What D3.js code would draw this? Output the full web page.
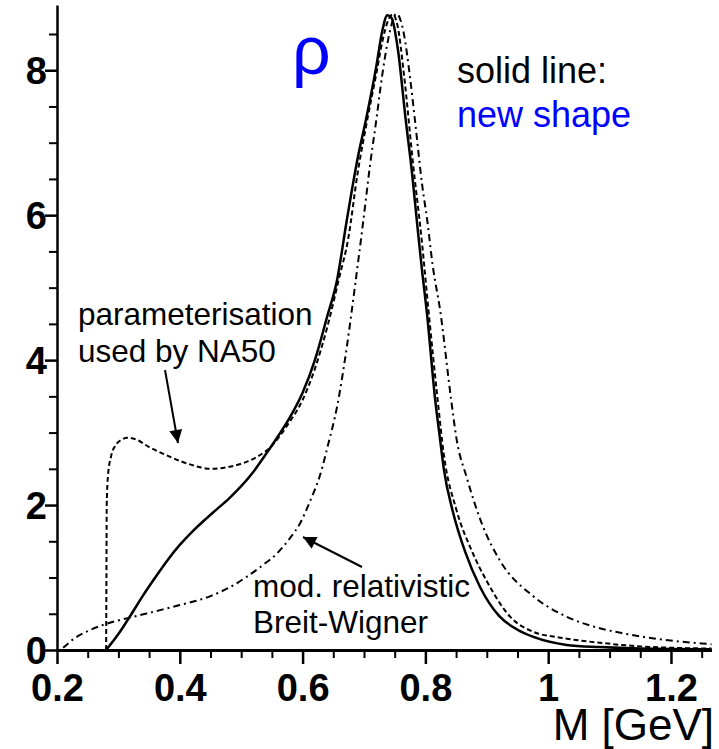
<!DOCTYPE html>
<html>
<head>
<meta charset="utf-8">
<script src="https://cdn.jsdelivr.net/npm/d3@7"></script>
<style>
  body { margin: 0; background: #fff; }
  svg { display: block; font-family: "Liberation Sans", Arial, sans-serif; }
</style>
</head>
<body>
<svg id="graph" width="719" height="749"></svg>
<script>
// valeurs (M en GeV, distribution en unités arbitraires)
const newShapeM = [0.280, 0.300, 0.320, 0.340, 0.360, 0.380, 0.400, 0.420, 0.440, 0.460, 0.480, 0.500, 0.520, 0.540, 0.560, 0.580, 0.600, 0.620, 0.640, 0.656, 0.672, 0.690, 0.703, 0.720, 0.730, 0.738, 0.745, 0.755, 0.768, 0.778, 0.786, 0.795, 0.802, 0.816, 0.824, 0.830, 0.845, 0.865, 0.889, 0.920, 0.950, 0.976, 1.030, 1.084, 1.150, 1.266];
const newShapeY = [0.00, 0.22, 0.48, 0.75, 1.00, 1.24, 1.45, 1.63, 1.79, 1.94, 2.09, 2.26, 2.46, 2.70, 2.95, 3.22, 3.55, 4.00, 4.60, 5.10, 5.93, 6.80, 7.31, 8.05, 8.55, 8.76, 8.72, 8.30, 7.31, 6.60, 5.93, 5.20, 4.69, 3.45, 2.90, 2.50, 1.90, 1.35, 0.87, 0.47, 0.28, 0.18, 0.07, 0.04, 0.02, 0.01];

const na50M = [0.2800, 0.2805, 0.2810, 0.2830, 0.2880, 0.2950, 0.3050, 0.3150, 0.330, 0.350, 0.375, 0.400, 0.425, 0.450, 0.475, 0.500, 0.525, 0.550, 0.575, 0.600, 0.620, 0.640, 0.660, 0.674, 0.690, 0.705, 0.720, 0.730, 0.740, 0.747, 0.755, 0.765, 0.780, 0.794, 0.805, 0.820, 0.830, 0.850, 0.875, 0.900, 0.938, 0.976, 1.020, 1.084, 1.150, 1.266];
const na50Y = [0.00, 1.00, 2.00, 2.40, 2.67, 2.82, 2.90, 2.93, 2.90, 2.80, 2.70, 2.61, 2.54, 2.50, 2.52, 2.57, 2.66, 2.82, 3.10, 3.45, 3.88, 4.45, 5.15, 5.66, 6.60, 7.30, 7.95, 8.40, 8.70, 8.77, 8.60, 7.95, 6.70, 5.66, 4.69, 3.45, 2.70, 1.95, 1.38, 0.95, 0.46, 0.25, 0.17, 0.10, 0.05, 0.02];

const bwM = [0.210, 0.230, 0.250, 0.280, 0.320, 0.368, 0.400, 0.449, 0.480, 0.509, 0.535, 0.558, 0.580, 0.596, 0.612, 0.628, 0.642, 0.656, 0.672, 0.685, 0.699, 0.710, 0.720, 0.730, 0.740, 0.753, 0.765, 0.775, 0.783, 0.795, 0.803, 0.812, 0.824, 0.842, 0.851, 0.867, 0.894, 0.921, 0.976, 1.030, 1.084, 1.122, 1.180, 1.250, 1.266];
const bwY = [0.03, 0.17, 0.26, 0.36, 0.45, 0.55, 0.62, 0.74, 0.86, 1.01, 1.17, 1.33, 1.55, 1.75, 2.05, 2.40, 2.85, 3.35, 4.18, 5.00, 5.93, 6.70, 7.31, 7.95, 8.45, 8.78, 8.50, 7.90, 7.31, 6.40, 5.93, 5.30, 4.69, 3.45, 2.90, 2.39, 1.70, 1.24, 0.74, 0.46, 0.30, 0.23, 0.15, 0.09, 0.08];

const xTicks = [0.2, 0.4, 0.6, 0.8, 1.0, 1.2];
const xTickLabels = ["0.2", "0.4", "0.6", "0.8", "1", "1.2"];
const yTicks = [0, 2, 4, 6, 8];
const yTickLabels = ["0", "2", "4", "6", "8"];

const svg = d3.select("#graph");

const x = d3.scaleLinear().domain([0.2, 1.266]).range([57, 711.5]);
const y = d3.scaleLinear().domain([0, 8.9]).range([650, 5]);

// petites graduations
const xMinor = d3.range(0.25, 1.266, 0.05).filter(v => Math.abs(v * 5 - Math.round(v * 5)) > 1e-6);
const yMinor = d3.range(0.5, 8.9, 0.5).filter(v => v % 2 !== 0);

svg.append("g")
    .attr("transform", "translate(0,650)")
    .call(d3.axisBottom(x).tickValues(xMinor).tickSize(8).tickSizeOuter(0).tickFormat(""))
    .call(g => g.select(".domain").remove())
    .selectAll("line").attr("stroke-width", 2);

svg.append("g")
    .attr("transform", "translate(57,0)")
    .call(d3.axisLeft(y).tickValues(yMinor).tickSize(8).tickSizeOuter(0).tickFormat(""))
    .call(g => g.select(".domain").remove())
    .selectAll("line").attr("stroke-width", 2);

// axes principaux
const gx = svg.append("g")
    .attr("transform", "translate(0,650)")
    .call(d3.axisBottom(x).tickValues(xTicks).tickSize(14).tickSizeOuter(0)
        .tickFormat((d, i) => xTickLabels[i]));
gx.select(".domain").attr("stroke-width", 3);
gx.selectAll("line").attr("stroke-width", 2.5);
gx.selectAll("text")
    .attr("y", 51).attr("dy", 0)
    .attr("font-size", 38).attr("font-weight", "bold")
    .attr("font-family", "'Liberation Sans', Arial, sans-serif")
    .attr("fill", "#000");

const gy = svg.append("g")
    .attr("transform", "translate(57,0)")
    .call(d3.axisLeft(y).tickValues(yTicks).tickSize(12).tickSizeOuter(0)
        .tickFormat((d, i) => yTickLabels[i]));
gy.select(".domain").attr("stroke-width", 2.5);
gy.selectAll("line").attr("stroke-width", 2.5);
gy.selectAll("text")
    .attr("x", -10).attr("dy", "0.36em")
    .attr("font-size", 38).attr("font-weight", "bold")
    .attr("font-family", "'Liberation Sans', Arial, sans-serif")
    .attr("fill", "#000");

// les trois courbes
const ligne = d3.line()
    .x(d => x(d[0]))
    .y(d => y(d[1]))
    .curve(d3.curveMonotoneX);

const courbes = [
    { m: bwM, v: bwY, dash: "7,4,2,4", w: 2 },
    { m: na50M, v: na50Y, dash: "5,3", w: 2 },
    { m: newShapeM, v: newShapeY, dash: null, w: 2.5 }
];

courbes.forEach(c => {
    svg.append("path")
        .datum(d3.zip(c.m, c.v))
        .attr("fill", "none")
        .attr("stroke", "#000")
        .attr("stroke-width", c.w)
        .attr("stroke-dasharray", c.dash)
        .attr("d", ligne);
});

// textes
const textes = [
    { t: "\u03C1", x: 292, y: 74, s: 68, c: "#0000ff" },
    { t: "solid line:", x: 457, y: 83, s: 36, c: "#000" },
    { t: "new shape", x: 457, y: 127, s: 36, c: "#0000ff" },
    { t: "parameterisation", x: 78, y: 325, s: 31.5, c: "#000" },
    { t: "used by NA50", x: 78, y: 362, s: 31.5, c: "#000" },
    { t: "mod. relativistic", x: 253, y: 597, s: 31.5, c: "#000" },
    { t: "Breit-Wigner", x: 253, y: 633, s: 31.5, c: "#000" }
];
svg.selectAll(".annot")
    .data(textes)
    .join("text")
    .attr("class", "annot")
    .attr("x", d => d.x)
    .attr("y", d => d.y)
    .attr("font-size", d => d.s)
    .attr("fill", d => d.c)
    .text(d => d.t);

svg.append("text")
    .attr("x", 714).attr("y", 740)
    .attr("text-anchor", "end")
    .attr("font-size", 44)
    .text("M [GeV]");

// flèches
svg.append("defs").append("marker")
    .attr("id", "fleche")
    .attr("viewBox", "0 0 10 10")
    .attr("refX", 10).attr("refY", 5)
    .attr("markerWidth", 16).attr("markerHeight", 13)
    .attr("markerUnits", "userSpaceOnUse")
    .attr("orient", "auto")
    .append("path")
    .attr("d", "M0,0 L10,5 L0,10 Z")
    .attr("fill", "#000");

const fleches = [
    [165, 370, 178, 443],
    [362, 567, 303, 537]
];
svg.selectAll(".fleche")
    .data(fleches)
    .join("line")
    .attr("class", "fleche")
    .attr("x1", d => d[0]).attr("y1", d => d[1])
    .attr("x2", d => d[2]).attr("y2", d => d[3])
    .attr("stroke", "#000")
    .attr("stroke-width", 2)
    .attr("marker-end", "url(#fleche)");
</script>
</body>
</html>
